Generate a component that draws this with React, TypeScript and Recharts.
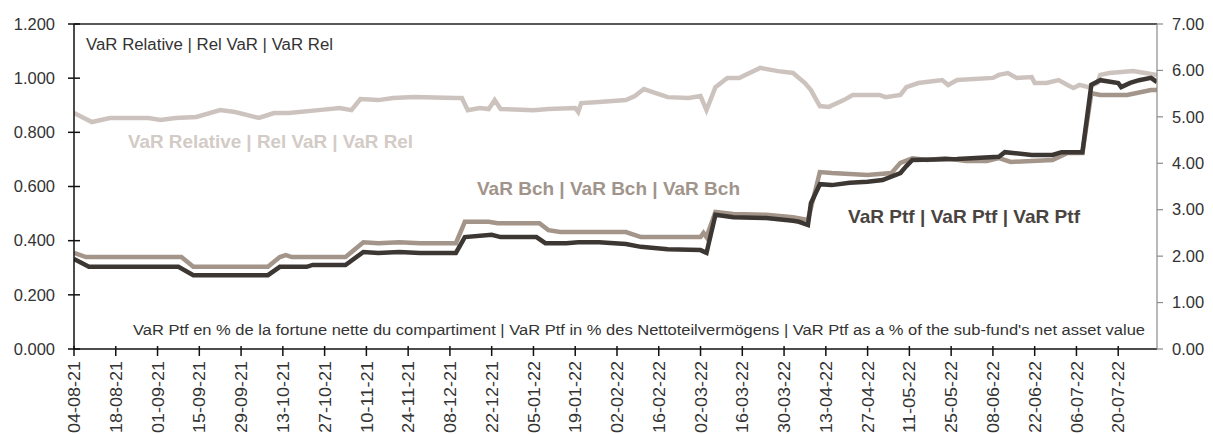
import React from 'react';
import { LineChart, Line, XAxis, YAxis, ReferenceLine } from 'recharts';

// dates are dd-mm-yy
const relDates = [
  '04-08-21', '10-08-21', '16-08-21', '29-08-21', '02-09-21', '07-09-21', '14-09-21', '22-09-21',
  '27-09-21', '05-10-21', '10-10-21', '15-10-21', '25-10-21', '01-11-21', '05-11-21', '08-11-21',
  '14-11-21', '19-11-21', '26-11-21', '10-12-21', '12-12-21', '14-12-21', '18-12-21', '21-12-21',
  '23-12-21', '25-12-21', '05-01-22', '10-01-22', '19-01-22', '20-01-22', '21-01-22', '27-01-22',
  '05-02-22', '08-02-22', '11-02-22', '15-02-22', '19-02-22', '26-02-22', '02-03-22', '04-03-22',
  '07-03-22', '11-03-22', '15-03-22', '17-03-22', '22-03-22', '28-03-22', '02-04-22', '06-04-22',
  '08-04-22', '11-04-22', '14-04-22', '19-04-22', '22-04-22', '01-05-22', '03-05-22', '08-05-22',
  '10-05-22', '14-05-22', '22-05-22', '24-05-22', '27-05-22', '08-06-22', '10-06-22', '13-06-22',
  '16-06-22', '21-06-22', '22-06-22', '26-06-22', '30-06-22', '03-07-22', '05-07-22', '07-07-22',
  '10-07-22', '13-07-22', '14-07-22', '17-07-22', '25-07-22', '29-07-22', '02-08-22',
];
const relValues = [
  0.871, 0.838, 0.853, 0.853, 0.846, 0.853, 0.857, 0.882,
  0.875, 0.853, 0.871, 0.871, 0.882, 0.89, 0.882, 0.923,
  0.919, 0.927, 0.93, 0.927, 0.927, 0.882, 0.89, 0.886,
  0.919, 0.886, 0.882, 0.886, 0.89, 0.875, 0.908, 0.912,
  0.919, 0.934, 0.96, 0.945, 0.93, 0.927, 0.934, 0.882,
  0.967, 1.001, 1.001, 1.012, 1.038, 1.026, 1.019, 0.982,
  0.956, 0.897, 0.894, 0.919, 0.938, 0.938, 0.93, 0.938,
  0.967, 0.982, 0.993, 0.975, 0.993, 1.001, 1.012, 1.019,
  1.001, 1.004, 0.982, 0.982, 0.993, 0.975, 0.964, 0.975,
  0.967, 0.982, 1.012, 1.019, 1.026, 1.019, 1.012,
];

const bchDates = [
  '04-08-21', '08-08-21', '09-09-21', '13-09-21', '08-10-21', '12-10-21', '14-10-21', '16-10-21',
  '03-11-21', '09-11-21', '14-11-21', '21-11-21', '28-11-21', '10-12-21', '13-12-21', '21-12-21',
  '24-12-21', '07-01-22', '10-01-22', '14-01-22', '05-02-22', '10-02-22', '02-03-22', '03-03-22',
  '04-03-22', '07-03-22', '13-03-22', '24-03-22', '02-04-22', '07-04-22', '11-04-22', '15-04-22',
  '27-04-22', '05-05-22', '08-05-22', '12-05-22', '17-05-22', '23-05-22', '30-05-22', '06-06-22',
  '10-06-22', '14-06-22', '28-06-22', '03-07-22', '08-07-22', '11-07-22', '14-07-22', '23-07-22',
  '31-07-22', '02-08-22',
];
const bchValues = [
  2.07, 1.98, 1.98, 1.77, 1.77, 1.98, 2.02, 1.98,
  1.98, 2.3, 2.28, 2.3, 2.28, 2.28, 2.74, 2.74,
  2.71, 2.71, 2.56, 2.52, 2.52, 2.41, 2.41, 2.5,
  2.41, 2.95, 2.91, 2.89, 2.84, 2.78, 3.81, 3.79,
  3.75, 3.79, 4.01, 4.11, 4.07, 4.11, 4.05, 4.05,
  4.11, 4.03, 4.07, 4.22, 4.22, 5.51, 5.47, 5.47,
  5.58, 5.58,
];

const ptfDates = [
  '04-08-21', '09-08-21', '08-09-21', '13-09-21', '08-10-21', '12-10-21', '21-10-21', '23-10-21',
  '03-11-21', '09-11-21', '14-11-21', '21-11-21', '28-11-21', '10-12-21', '13-12-21', '22-12-21',
  '25-12-21', '06-01-22', '09-01-22', '16-01-22', '20-01-22', '27-01-22', '05-02-22', '10-02-22',
  '19-02-22', '02-03-22', '04-03-22', '07-03-22', '13-03-22', '24-03-22', '02-04-22', '04-04-22',
  '07-04-22', '08-04-22', '11-04-22', '15-04-22', '21-04-22', '27-04-22', '02-05-22', '08-05-22',
  '10-05-22', '12-05-22', '27-05-22', '10-06-22', '12-06-22', '21-06-22', '28-06-22', '01-07-22',
  '08-07-22', '11-07-22', '14-07-22', '20-07-22', '21-07-22', '24-07-22', '27-07-22', '31-07-22',
  '02-08-22',
];
const ptfValues = [
  1.94, 1.77, 1.77, 1.59, 1.59, 1.77, 1.77, 1.81,
  1.81, 2.09, 2.07, 2.09, 2.07, 2.07, 2.41, 2.46,
  2.41, 2.41, 2.28, 2.28, 2.3, 2.3, 2.26, 2.2,
  2.15, 2.13, 2.07, 2.89, 2.84, 2.82, 2.76, 2.74,
  2.67, 3.14, 3.55, 3.53, 3.58, 3.6, 3.64, 3.79,
  3.94, 4.07, 4.09, 4.14, 4.24, 4.18, 4.18, 4.24,
  4.24, 5.69, 5.79, 5.73, 5.64, 5.73, 5.79, 5.84,
  5.75,
];

const tickLabels = [
  '04-08-21', '18-08-21', '01-09-21', '15-09-21', '29-09-21', '13-10-21', '27-10-21', '10-11-21',
  '24-11-21', '08-12-21', '22-12-21', '05-01-22', '19-01-22', '02-02-22', '16-02-22', '02-03-22',
  '16-03-22', '30-03-22', '13-04-22', '27-04-22', '11-05-22', '25-05-22', '08-06-22', '22-06-22',
  '06-07-22', '20-07-22',
];
const leftTicks = [0, 0.2, 0.4, 0.6, 0.8, 1.0, 1.2];
const rightTicks = [0, 1, 2, 3, 4, 5, 6, 7];

const parse = (s: string) => {
  const [d, m, y] = s.split('-').map(Number);
  return Date.UTC(2000 + y, m - 1, d);
};
const pad = (n: number) => String(n).padStart(2, '0');
const fmt = (t: number) => {
  const d = new Date(t);
  return `${pad(d.getUTCDate())}-${pad(d.getUTCMonth() + 1)}-${pad(d.getUTCFullYear() % 100)}`;
};

const toRows = (dates: string[], values: number[]) =>
  dates.map((d, i) => ({ t: parse(d), v: values[i] }));

const relData = toRows(relDates, relValues);
const bchData = toRows(bchDates, bchValues);
const ptfData = toRows(ptfDates, ptfValues);

const FONT = '"Liberation Sans", Arial, sans-serif';

const LeftTick = ({ x, y, payload }: any) => (
  <g>
    <line x1={x - 6} x2={x + 6} y1={y} y2={y} stroke="#111" strokeWidth={1.5} />
    <text x={x - 19} y={y} dy="0.35em" textAnchor="end" fontSize={16.5} fill="#333" fontFamily={FONT}>
      {payload.value.toFixed(3)}
    </text>
  </g>
);

const RightTick = ({ x, y, payload }: any) => (
  <g>
    <line x1={x} x2={x + 6} y1={y} y2={y} stroke="#8a8a8a" strokeWidth={1.2} />
    <text x={x + 15} y={y} dy="0.35em" textAnchor="start" fontSize={16.5} fill="#333" fontFamily={FONT}>
      {payload.value.toFixed(2)}
    </text>
  </g>
);

const BottomTick = ({ x, y, payload }: any) => (
  <g>
    <line x1={x} x2={x} y1={y - 5} y2={y + 5} stroke="#111" strokeWidth={1.5} />
    <text
      transform={`translate(${x},${y + 10}) rotate(-90)`}
      dy="0.36em"
      textAnchor="end"
      fontSize={17}
      fill="#333"
      fontFamily={FONT}
      textLength={72}
      lengthAdjust="spacingAndGlyphs"
    >
      {fmt(payload.value)}
    </text>
  </g>
);

export default function App() {
  return (
    <div style={{ position: 'relative', width: 1197, height: 426, fontFamily: FONT }}>
      <LineChart width={1197} height={426} margin={{ top: 16, right: 0, bottom: 0, left: 0 }}>
        <XAxis
          dataKey="t"
          type="number"
          domain={[parse('04-08-21'), parse('02-08-22')]}
          ticks={tickLabels.map(parse)}
          allowDataOverflow
          height={85}
          axisLine={{ stroke: '#111', strokeWidth: 1.5 }}
          tickLine={false}
          tickSize={0}
          tick={<BottomTick />}
          interval={0}
        />
        <YAxis
          yAxisId="left"
          domain={[0, 1.2]}
          ticks={leftTicks}
          width={66}
          axisLine={{ stroke: '#111', strokeWidth: 1.5 }}
          tickLine={false}
          tickSize={0}
          tickMargin={0}
          tick={<LeftTick />}
          interval={0}
        />
        <YAxis
          yAxisId="right"
          orientation="right"
          domain={[0, 7]}
          ticks={rightTicks}
          width={48}
          axisLine={{ stroke: '#8a8a8a', strokeWidth: 1.2 }}
          tickLine={false}
          tickSize={0}
          tickMargin={0}
          tick={<RightTick />}
          interval={0}
        />
        <ReferenceLine yAxisId="left" y={1.2} stroke="#222" strokeWidth={1.5} />
        <Line
          yAxisId="left"
          data={relData}
          dataKey="v"
          type="linear"
          stroke="#cdc3be"
          strokeWidth={4.5}
          dot={false}
          isAnimationActive={false}
        />
        <Line
          yAxisId="right"
          data={bchData}
          dataKey="v"
          type="linear"
          stroke="#a39589"
          strokeWidth={4.5}
          dot={false}
          isAnimationActive={false}
        />
        <Line
          yAxisId="right"
          data={ptfData}
          dataKey="v"
          type="linear"
          stroke="#3d3734"
          strokeWidth={4.5}
          dot={false}
          isAnimationActive={false}
        />
      </LineChart>
      <svg
        width={1197}
        height={426}
        style={{ position: 'absolute', left: 0, top: 0, pointerEvents: 'none' }}
        fontFamily={FONT}
      >
        <text x={78} y={42} fontSize={16} fill="#333" textLength={247} lengthAdjust="spacingAndGlyphs">
          VaR Relative | Rel VaR | VaR Rel
        </text>
        <text x={120} y={140} fontSize={18.5} fontWeight="bold" fill="#d3cbc6" textLength={285} lengthAdjust="spacingAndGlyphs">
          VaR Relative | Rel VaR | VaR Rel
        </text>
        <text x={469} y={187} fontSize={18.5} fontWeight="bold" fill="#a0948b" textLength={263} lengthAdjust="spacingAndGlyphs">
          VaR Bch | VaR Bch | VaR Bch
        </text>
        <text x={840} y={215} fontSize={18.5} fontWeight="bold" fill="#4a4441" textLength={232} lengthAdjust="spacingAndGlyphs">
          VaR Ptf | VaR Ptf | VaR Ptf
        </text>
        <text x={125} y={327} fontSize={15.5} fill="#333" textLength={1012} lengthAdjust="spacingAndGlyphs">
          VaR Ptf en % de la fortune nette du compartiment | VaR Ptf in % des Nettoteilvermögens | VaR Ptf as a % of the sub-fund's net asset value
        </text>
      </svg>
    </div>
  );
}
